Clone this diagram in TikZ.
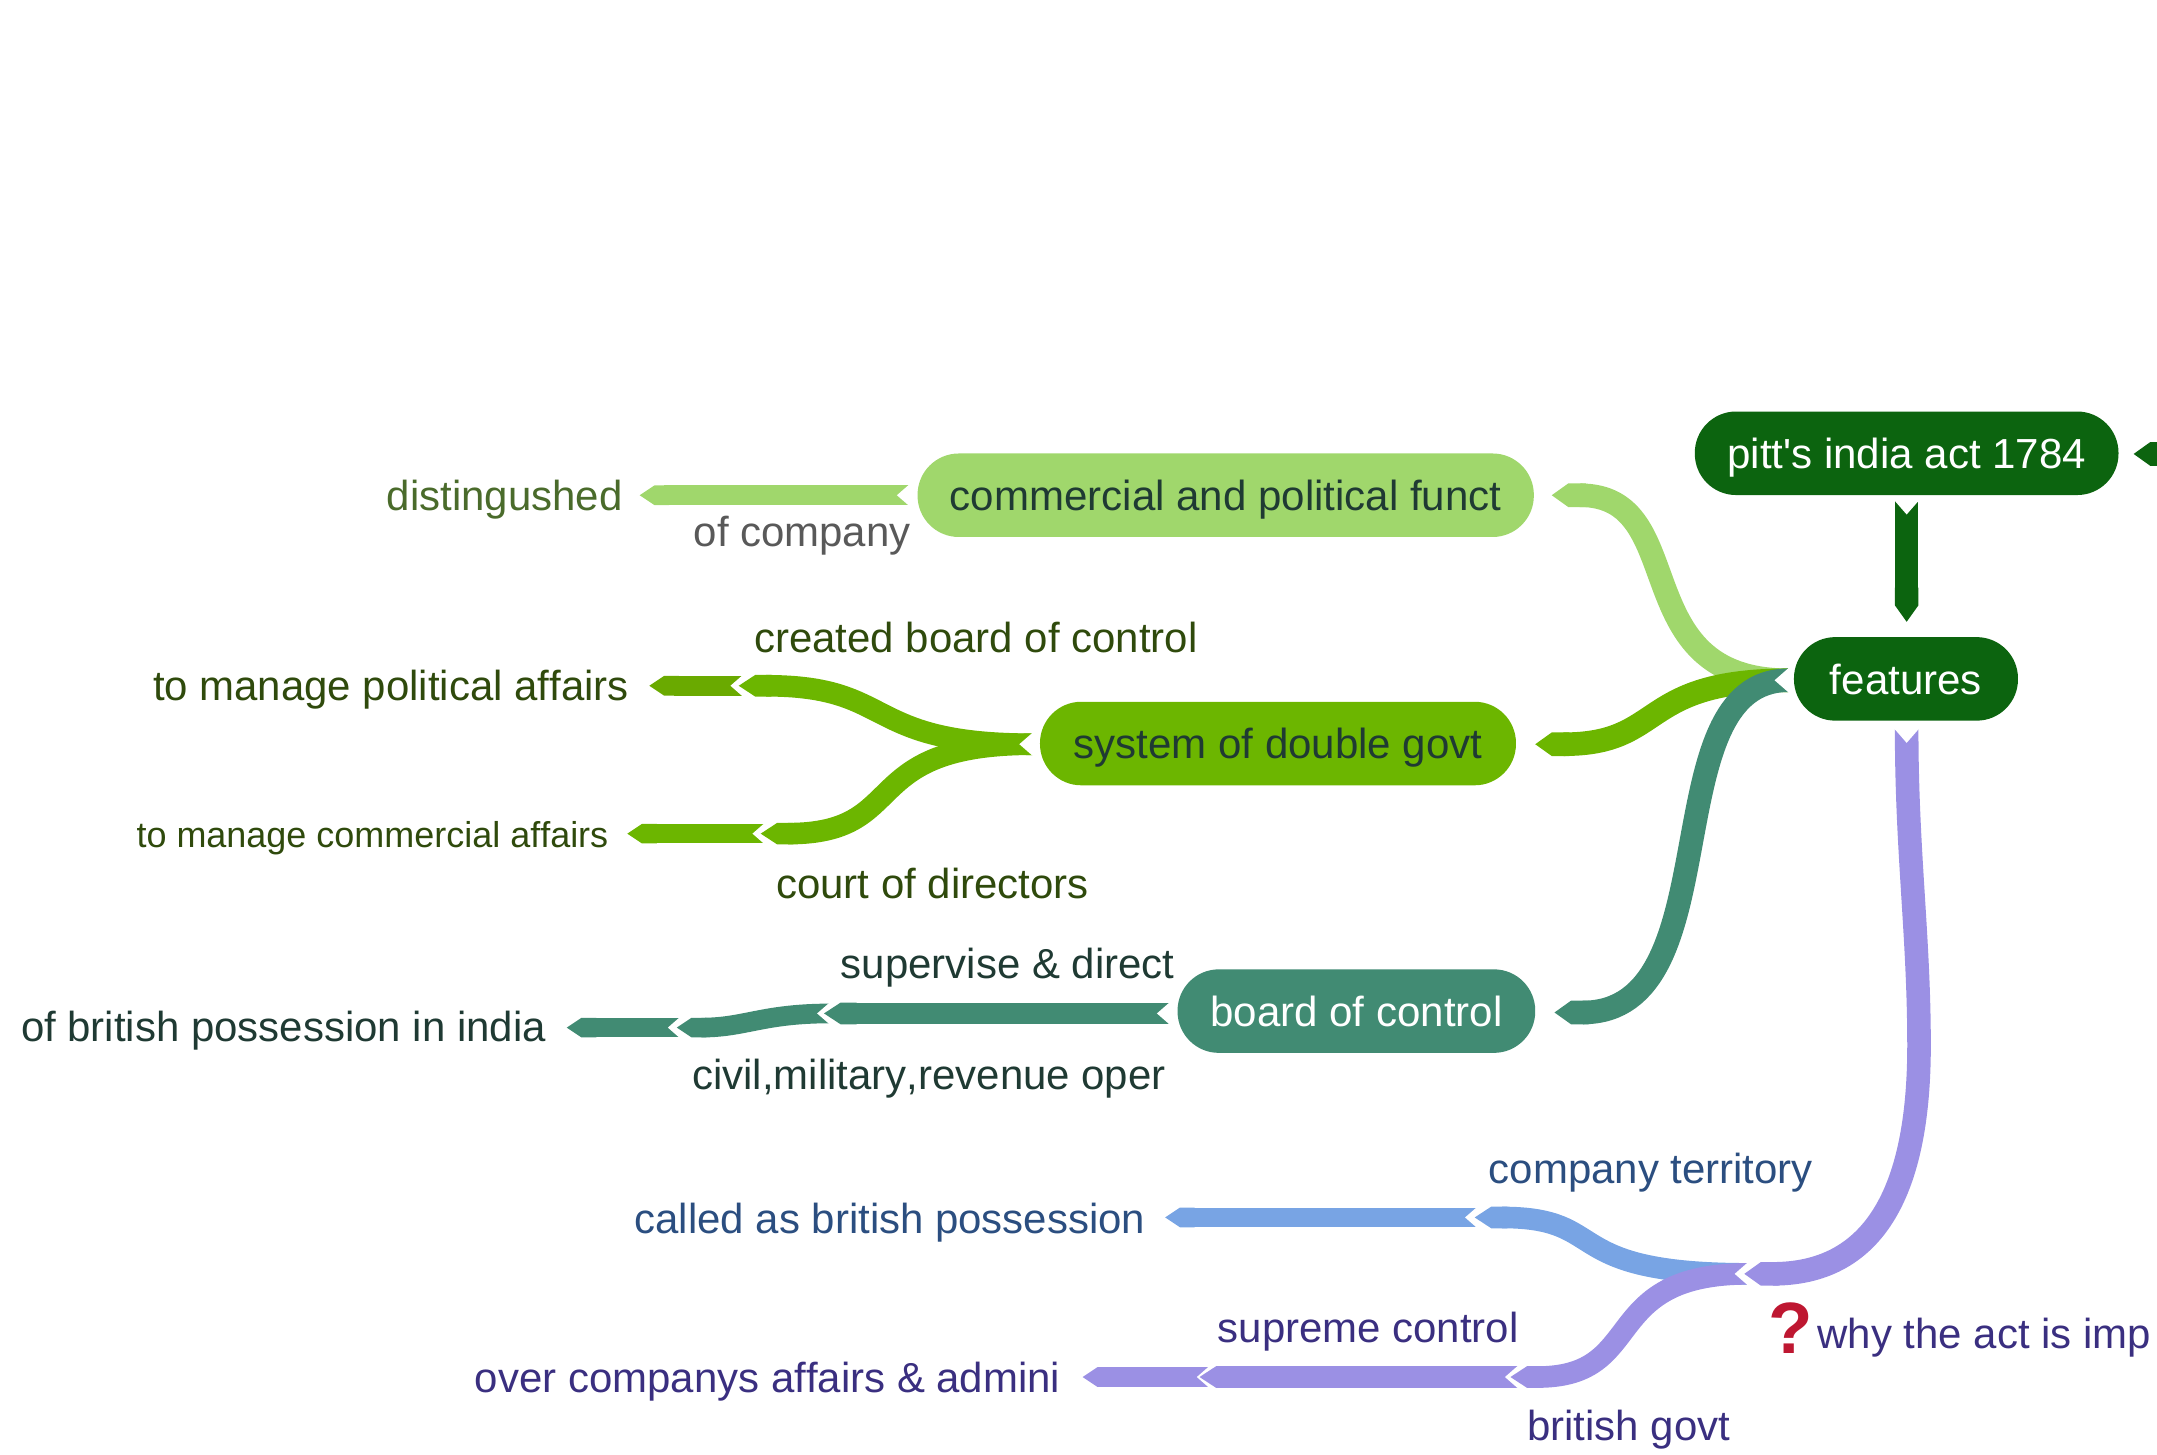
\documentclass[tikz,border=0pt]{standalone}
\usepackage{fontspec}
\setmainfont[Kerning=Off]{Liberation Sans}
\usetikzlibrary{arrows.meta}
\definecolor{darkgrn}{HTML}{0C640F}
\definecolor{lightgrn}{HTML}{A0D76C}
\definecolor{midgrn}{HTML}{6CB600}
\definecolor{midgrnb}{HTML}{6AAA00}
\definecolor{teal}{HTML}{418B73}
\definecolor{skyblue}{HTML}{78A4E4}
\definecolor{lilac}{HTML}{9B90E4}
\definecolor{txtlight}{HTML}{4A6B2B}
\definecolor{txtgrn}{HTML}{2F4A0C}
\definecolor{txtteal}{HTML}{1F3A33}
\definecolor{txtblue}{HTML}{2B4E80}
\definecolor{txtlilac}{HTML}{3A2F80}
\definecolor{qred}{HTML}{BE1731}
\begin{document}
\begin{tikzpicture}[x=0.7pt,y=-0.7pt,
  topic/.style={rounded corners=21pt,inner sep=0pt,minimum height=42.5pt,text height=16pt,text depth=0.6pt,font=\fontsize{21.4}{26}\selectfont},
  leaf/.style={anchor=base west,inner sep=0pt,font=\fontsize{21.35}{26}\selectfont},
  wide/.style={line width=12pt,-{Triangle Cap[length=8.4pt]}},
  medium/.style={line width=11pt,-{Triangle Cap[length=8.4pt]}},
  slim/.style={line width=10pt,-{Triangle Cap[length=7.5pt]}},
  curve/.style 2 args={to path={.. controls +(-#1,0) and +(#2,0) .. (\tikztotarget)}},
  notch/.pic={\fill[white] (1,-9.6) -- (-10,0) -- (1,9.6) -- cycle;}]
  \clip (0,0) rectangle (1568,1057);

  \node[topic,fill=darkgrn,text=white,minimum width=215.6pt] (pitt) at (1386,329.5) {pitt\textquotesingle s india act 1784};
  \node[topic,fill=darkgrn,text=white,minimum width=114pt] (features) at (1385.5,493.5) {features};
  \node[topic,fill=lightgrn,text=txtteal,minimum width=313.6pt] (commercial) at (891,360) {commercial and political funct};
  \node[topic,fill=midgrn,text=txtteal,minimum width=242.2pt] (system) at (929,540.5) {system of double govt};
  \node[topic,fill=teal,text=white,minimum width=182pt] (board) at (986,735) {board of control};

  \node[leaf,text=txtlight] (distingushed) at (281,371) {distingushed};
  \node[leaf,text=black!65] (ofcompany) at (504,397) {of company};
  \node[leaf,text=txtgrn] (created) at (548,474) {created board of control};
  \node[leaf,text=txtgrn] (political) at (111,509) {to manage political affairs};
  \node[leaf,text=txtgrn,font=\fontsize{18.3}{22}\selectfont] (commaffairs) at (99,616) {to manage commercial affairs};
  \node[leaf,text=txtgrn] (court) at (564,653) {court of directors};
  \node[leaf,text=txtteal] (supervise) at (611,711) {supervise \& direct};
  \node[leaf,text=txtteal] (possession) at (15,757) {of british possession in india};
  \node[leaf,text=txtteal] (civil) at (503,792) {civil,military,revenue oper};
  \node[leaf,text=txtblue] (territory) at (1082,860) {company territory};
  \node[leaf,text=txtblue] (called) at (461,897) {called as british possession};
  \node[leaf,text=txtlilac] (supreme) at (885,976) {supreme control};
  \node[leaf,text=txtlilac] (admini) at (345,1012) {over companys affairs \& admini};
  \node[leaf,text=txtlilac] (govt) at (1110,1047) {british govt};
  \node[leaf,text=txtlilac] (why) at (1321,980) {why the act is imp};
  \node[leaf,text=qred,font=\fontsize{37}{40}\selectfont\bfseries] (mark) at (1285,984) {?};

  % joints
  \coordinate (comtail) at (662,360);
  \coordinate (disttip) at (465,360);
  \coordinate (systail) at (751,541);
  \coordinate (uptip) at (537,498.5);
  \coordinate (uptail) at (541,498.5);
  \coordinate (poltip) at (472,498.5);
  \coordinate (lowtip) at (553,606);
  \coordinate (lowtail) at (557,606);
  \coordinate (afftip) at (456,606);
  \coordinate (boardtail) at (851,736.7);
  \coordinate (suptip) at (599,736.7);
  \coordinate (suptail) at (604,736.7);
  \coordinate (civtip) at (492,747);
  \coordinate (civtail) at (495.5,747);
  \coordinate (posstip) at (412,747);
  \coordinate (fork) at (1271,926);
  \coordinate (terrtip) at (1072,885);
  \coordinate (terrtail) at (1075,885);
  \coordinate (calltip) at (847,885);
  \coordinate (govtip) at (1098,1001);
  \coordinate (govtail) at (1104,1001);
  \coordinate (suprtip) at (872,1001);
  \coordinate (suprtail) at (880,1001);
  \coordinate (admtip) at (787,1001);
  \coordinate (feattail) at (1300,494.5);
  \coordinate (comtip) at (1128,360);
  \coordinate (systip) at (1116,541);
  \coordinate (boardtip) at (1130,736);
  \coordinate (forktip) at (1268,926);
  \coordinate (featlow) at (1386,530);
  \coordinate (bulge) at (1395,760);
  \coordinate (pittlow) at (1386,364);
  \coordinate (feattop) at (1386,452);
  \coordinate (offpage) at (1590,330);
  \coordinate (pitttip) at (1551,330);

  % leaves first, so that each tip lies over the notch next to it
  \path[slim,color=lightgrn] (comtail) edge (disttip);
  \pic at (comtail) {notch};

  \path[slim,color=midgrnb] (uptail) edge (poltip);
  \pic at (uptail) {notch};
  \path[slim,color=midgrn] (lowtail) edge (afftip);
  \pic at (lowtail) {notch};
  \path[medium,color=midgrn]
    (systail) edge[curve={125}{115}] (uptip)
    (systail) edge[curve={130}{110}] (lowtip);
  \pic at (systail) {notch};

  \path[slim,color=teal] (civtail) edge (posstip);
  \pic at (civtail) {notch};
  \path[slim,color=teal] (suptail) edge[curve={50}{50}] (civtip);
  \pic at (suptail) {notch};
  \path[medium,color=teal] (boardtail) edge (suptip);
  \pic at (boardtail) {notch};

  \path[slim,color=skyblue] (terrtail) edge (calltip);
  \pic at (terrtail) {notch};
  \path[slim,color=lilac] (suprtail) edge (admtip);
  \pic at (suprtail) {notch};
  \path[medium,color=lilac] (govtail) edge (suprtip);
  \pic at (govtail) {notch};
  \path[medium,color=skyblue] (fork) edge[curve={140}{100}] (terrtip);
  \path[medium,color=lilac] (fork) edge[curve={110}{100}] (govtip);
  \pic at (fork) {notch};

  \path[wide,color=lightgrn] (feattail) edge[curve={120}{102}] (comtip);
  \path[wide,color=midgrn] (feattail) edge[curve={110}{95}] (systip);
  \path[wide,color=teal] (feattail) edge[curve={100}{130}] (boardtip);
  \pic at (feattail) {notch};

  \draw[wide,color=lilac] (featlow) .. controls +(0,90) and +(0,-80) .. (bulge)
    .. controls +(0,110) and +(92,0) .. (forktip);
  \pic[rotate=90] at (featlow) {notch};

  \path[wide,color=darkgrn] (pittlow) edge (feattop);
  \pic[rotate=90] at (pittlow) {notch};
  \path[wide,color=darkgrn] (offpage) edge (pitttip);
\end{tikzpicture}
\end{document}
